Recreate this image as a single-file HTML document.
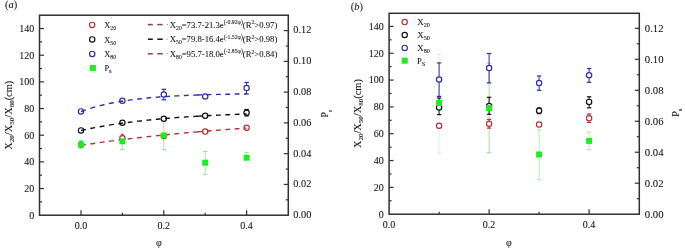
<!DOCTYPE html>
<html><head><meta charset="utf-8"><style>
html,body{margin:0;padding:0;background:#fff;width:685px;height:252px;overflow:hidden}
svg{display:block;font-family:"Liberation Serif", serif;fill:#111;filter:blur(0.25px)}
text{fill:#151515;stroke:#151515;stroke-width:0.08px}
</style></head><body>
<svg width="685" height="252" viewBox="0 0 685 252">
<text x="5.00" y="8.40" font-size="10.5" text-anchor="start" >(<tspan font-style="italic">a</tspan>)</text>
<rect x="39.5" y="15.2" width="248.8" height="200.0" fill="none" stroke="#303030" stroke-width="1.5"/>
<line x1="39.50" y1="201.87" x2="42.00" y2="201.87" stroke="#303030" stroke-width="1.2" />
<line x1="39.50" y1="188.53" x2="44.00" y2="188.53" stroke="#303030" stroke-width="1.2" />
<line x1="39.50" y1="175.20" x2="42.00" y2="175.20" stroke="#303030" stroke-width="1.2" />
<line x1="39.50" y1="161.87" x2="44.00" y2="161.87" stroke="#303030" stroke-width="1.2" />
<line x1="39.50" y1="148.53" x2="42.00" y2="148.53" stroke="#303030" stroke-width="1.2" />
<line x1="39.50" y1="135.20" x2="44.00" y2="135.20" stroke="#303030" stroke-width="1.2" />
<line x1="39.50" y1="121.87" x2="42.00" y2="121.87" stroke="#303030" stroke-width="1.2" />
<line x1="39.50" y1="108.53" x2="44.00" y2="108.53" stroke="#303030" stroke-width="1.2" />
<line x1="39.50" y1="95.20" x2="42.00" y2="95.20" stroke="#303030" stroke-width="1.2" />
<line x1="39.50" y1="81.87" x2="44.00" y2="81.87" stroke="#303030" stroke-width="1.2" />
<line x1="39.50" y1="68.53" x2="42.00" y2="68.53" stroke="#303030" stroke-width="1.2" />
<line x1="39.50" y1="55.20" x2="44.00" y2="55.20" stroke="#303030" stroke-width="1.2" />
<line x1="39.50" y1="41.87" x2="42.00" y2="41.87" stroke="#303030" stroke-width="1.2" />
<line x1="39.50" y1="28.53" x2="44.00" y2="28.53" stroke="#303030" stroke-width="1.2" />
<text x="34.20" y="218.60" font-size="10" text-anchor="end" >0</text>
<text x="34.20" y="191.93" font-size="10" text-anchor="end" >20</text>
<text x="34.20" y="165.27" font-size="10" text-anchor="end" >40</text>
<text x="34.20" y="138.60" font-size="10" text-anchor="end" >60</text>
<text x="34.20" y="111.93" font-size="10" text-anchor="end" >80</text>
<text x="34.20" y="85.27" font-size="10" text-anchor="end" >100</text>
<text x="34.20" y="58.60" font-size="10" text-anchor="end" >120</text>
<text x="34.20" y="31.93" font-size="10" text-anchor="end" >140</text>
<line x1="285.80" y1="199.82" x2="288.30" y2="199.82" stroke="#303030" stroke-width="1.2" />
<line x1="283.80" y1="184.43" x2="288.30" y2="184.43" stroke="#303030" stroke-width="1.2" />
<line x1="285.80" y1="169.05" x2="288.30" y2="169.05" stroke="#303030" stroke-width="1.2" />
<line x1="283.80" y1="153.66" x2="288.30" y2="153.66" stroke="#303030" stroke-width="1.2" />
<line x1="285.80" y1="138.28" x2="288.30" y2="138.28" stroke="#303030" stroke-width="1.2" />
<line x1="283.80" y1="122.89" x2="288.30" y2="122.89" stroke="#303030" stroke-width="1.2" />
<line x1="285.80" y1="107.51" x2="288.30" y2="107.51" stroke="#303030" stroke-width="1.2" />
<line x1="283.80" y1="92.12" x2="288.30" y2="92.12" stroke="#303030" stroke-width="1.2" />
<line x1="285.80" y1="76.74" x2="288.30" y2="76.74" stroke="#303030" stroke-width="1.2" />
<line x1="283.80" y1="61.35" x2="288.30" y2="61.35" stroke="#303030" stroke-width="1.2" />
<line x1="285.80" y1="45.97" x2="288.30" y2="45.97" stroke="#303030" stroke-width="1.2" />
<line x1="283.80" y1="30.58" x2="288.30" y2="30.58" stroke="#303030" stroke-width="1.2" />
<text x="293.30" y="218.10" font-size="10.3" text-anchor="start" >0.00</text>
<text x="293.30" y="187.33" font-size="10.3" text-anchor="start" >0.02</text>
<text x="293.30" y="156.56" font-size="10.3" text-anchor="start" >0.04</text>
<text x="293.30" y="125.79" font-size="10.3" text-anchor="start" >0.06</text>
<text x="293.30" y="95.02" font-size="10.3" text-anchor="start" >0.08</text>
<text x="293.30" y="64.25" font-size="10.3" text-anchor="start" >0.10</text>
<text x="293.30" y="33.48" font-size="10.3" text-anchor="start" >0.12</text>
<line x1="81.00" y1="210.20" x2="81.00" y2="215.20" stroke="#303030" stroke-width="1.2" />
<line x1="163.80" y1="210.20" x2="163.80" y2="215.20" stroke="#303030" stroke-width="1.2" />
<line x1="246.60" y1="210.20" x2="246.60" y2="215.20" stroke="#303030" stroke-width="1.2" />
<line x1="122.40" y1="212.70" x2="122.40" y2="215.20" stroke="#303030" stroke-width="1.2" />
<line x1="205.20" y1="212.70" x2="205.20" y2="215.20" stroke="#303030" stroke-width="1.2" />
<text x="81.00" y="229.20" font-size="10" text-anchor="middle" >0.0</text>
<text x="163.80" y="229.20" font-size="10" text-anchor="middle" >0.2</text>
<text x="246.60" y="229.20" font-size="10" text-anchor="middle" >0.4</text>
<text x="159.00" y="246.20" font-size="10" text-anchor="middle" >φ</text>
<line x1="81.00" y1="140.50" x2="81.00" y2="148.20" stroke="#96e096" stroke-width="0.8" />
<line x1="78.80" y1="140.50" x2="83.20" y2="140.50" stroke="#96e096" stroke-width="1.0" />
<line x1="78.80" y1="148.20" x2="83.20" y2="148.20" stroke="#96e096" stroke-width="1.0" />
<line x1="122.40" y1="135.50" x2="122.40" y2="149.50" stroke="#96e096" stroke-width="0.8" />
<line x1="120.20" y1="135.50" x2="124.60" y2="135.50" stroke="#96e096" stroke-width="1.0" />
<line x1="120.20" y1="149.50" x2="124.60" y2="149.50" stroke="#96e096" stroke-width="1.0" />
<line x1="163.80" y1="121.00" x2="163.80" y2="149.70" stroke="#96e096" stroke-width="0.8" />
<line x1="161.60" y1="121.00" x2="166.00" y2="121.00" stroke="#96e096" stroke-width="1.0" />
<line x1="161.60" y1="149.70" x2="166.00" y2="149.70" stroke="#96e096" stroke-width="1.0" />
<line x1="205.20" y1="151.40" x2="205.20" y2="174.30" stroke="#96e096" stroke-width="0.8" />
<line x1="203.00" y1="151.40" x2="207.40" y2="151.40" stroke="#96e096" stroke-width="1.0" />
<line x1="203.00" y1="174.30" x2="207.40" y2="174.30" stroke="#96e096" stroke-width="1.0" />
<line x1="246.60" y1="152.40" x2="246.60" y2="158.00" stroke="#96e096" stroke-width="0.8" />
<line x1="244.40" y1="152.40" x2="248.80" y2="152.40" stroke="#96e096" stroke-width="1.0" />
<line x1="244.40" y1="158.00" x2="248.80" y2="158.00" stroke="#96e096" stroke-width="1.0" />
<line x1="122.40" y1="134.30" x2="122.40" y2="142.30" stroke="#b8323a" stroke-width="1.0" />
<line x1="121.10" y1="134.30" x2="123.70" y2="134.30" stroke="#b8323a" stroke-width="1.2" />
<line x1="121.10" y1="142.30" x2="123.70" y2="142.30" stroke="#b8323a" stroke-width="1.2" />
<circle cx="81.00" cy="144.60" r="2.65" fill="white" stroke="#b8323a" stroke-width="1.2"/>
<circle cx="122.40" cy="138.30" r="2.65" fill="white" stroke="#b8323a" stroke-width="1.2"/>
<circle cx="163.80" cy="136.00" r="2.65" fill="white" stroke="#b8323a" stroke-width="1.2"/>
<circle cx="205.20" cy="131.60" r="2.65" fill="white" stroke="#b8323a" stroke-width="1.2"/>
<circle cx="246.60" cy="127.70" r="2.65" fill="white" stroke="#b8323a" stroke-width="1.2"/>
<line x1="246.60" y1="109.50" x2="246.60" y2="116.00" stroke="#111111" stroke-width="1.0" />
<line x1="244.40" y1="109.50" x2="248.80" y2="109.50" stroke="#111111" stroke-width="1.2" />
<line x1="244.40" y1="116.00" x2="248.80" y2="116.00" stroke="#111111" stroke-width="1.2" />
<circle cx="81.00" cy="130.40" r="2.65" fill="white" stroke="#111111" stroke-width="1.2"/>
<circle cx="122.40" cy="122.80" r="2.65" fill="white" stroke="#111111" stroke-width="1.2"/>
<circle cx="163.80" cy="118.80" r="2.65" fill="white" stroke="#111111" stroke-width="1.2"/>
<circle cx="205.20" cy="115.70" r="2.65" fill="white" stroke="#111111" stroke-width="1.2"/>
<circle cx="246.60" cy="112.70" r="2.65" fill="white" stroke="#111111" stroke-width="1.2"/>
<line x1="163.80" y1="89.30" x2="163.80" y2="99.80" stroke="#2c2ca6" stroke-width="1.0" />
<line x1="161.60" y1="89.30" x2="166.00" y2="89.30" stroke="#2c2ca6" stroke-width="1.2" />
<line x1="161.60" y1="99.80" x2="166.00" y2="99.80" stroke="#2c2ca6" stroke-width="1.2" />
<line x1="246.60" y1="82.50" x2="246.60" y2="94.00" stroke="#2c2ca6" stroke-width="1.0" />
<line x1="244.40" y1="82.50" x2="248.80" y2="82.50" stroke="#2c2ca6" stroke-width="1.2" />
<line x1="244.40" y1="94.00" x2="248.80" y2="94.00" stroke="#2c2ca6" stroke-width="1.2" />
<circle cx="81.00" cy="111.40" r="2.65" fill="white" stroke="#2c2ca6" stroke-width="1.2"/>
<circle cx="122.40" cy="100.80" r="2.65" fill="white" stroke="#2c2ca6" stroke-width="1.2"/>
<circle cx="163.80" cy="94.50" r="2.65" fill="white" stroke="#2c2ca6" stroke-width="1.2"/>
<circle cx="205.20" cy="96.50" r="2.65" fill="white" stroke="#2c2ca6" stroke-width="1.2"/>
<circle cx="246.60" cy="88.10" r="2.65" fill="white" stroke="#2c2ca6" stroke-width="1.2"/>
<path d="M81.00,145.30 L82.60,145.06 L84.20,144.82 L85.80,144.59 M90.35,143.92 L91.95,143.69 L93.55,143.46 L95.15,143.24 M99.70,142.60 L101.30,142.38 L102.90,142.17 L104.50,141.95 M109.05,141.34 L110.65,141.13 L112.25,140.93 L113.85,140.72 M118.40,140.14 L120.00,139.94 L121.60,139.74 L123.20,139.54 M127.75,138.99 L129.35,138.80 L130.95,138.61 L132.55,138.42 M137.10,137.89 L138.70,137.70 L140.30,137.52 L141.90,137.34 M146.45,136.83 L148.05,136.66 L149.65,136.49 L151.25,136.31 M155.80,135.83 L157.40,135.66 L159.00,135.49 L160.60,135.33 M165.15,134.87 L166.75,134.71 L168.35,134.55 L169.95,134.39 M174.50,133.95 L176.10,133.80 L177.70,133.64 L179.30,133.49 M183.85,133.07 L185.45,132.92 L187.05,132.78 L188.65,132.63 M193.20,132.23 L194.67,132.10 L196.13,131.97 L197.60,131.85 M197.30,131.87 L198.90,131.74 L200.50,131.60 L202.10,131.46 M206.65,131.09 L208.25,130.96 L209.85,130.82 L211.45,130.70 M216.00,130.33 L217.60,130.21 L219.20,130.08 L220.80,129.96 M225.35,129.61 L226.95,129.49 L228.55,129.38 L230.15,129.26 M234.70,128.93 L236.30,128.81 L237.90,128.70 L239.50,128.59 M244.05,128.27 L244.90,128.21 L245.75,128.15 L246.60,128.10" fill="none" stroke="#b8323a" stroke-width="1.4"/>
<path d="M81.00,130.49 L82.60,130.14 L84.20,129.80 L85.80,129.46 M90.35,128.53 L91.95,128.22 L93.55,127.91 L95.15,127.60 M99.70,126.77 L101.30,126.49 L102.90,126.21 L104.50,125.93 M109.05,125.18 L110.65,124.93 L112.25,124.68 L113.85,124.43 M118.40,123.76 L120.00,123.53 L121.60,123.30 L123.20,123.08 M127.75,122.48 L129.35,122.27 L130.95,122.07 L132.55,121.87 M137.10,121.32 L138.70,121.14 L140.30,120.96 L141.90,120.78 M146.45,120.29 L148.05,120.12 L149.65,119.96 L151.25,119.80 M155.80,119.36 L157.40,119.21 L159.00,119.06 L160.60,118.92 M165.15,118.52 L166.75,118.39 L168.35,118.25 L169.95,118.12 M174.50,117.77 L176.10,117.65 L177.70,117.53 L179.30,117.41 M183.85,117.09 L185.45,116.98 L187.05,116.88 L188.65,116.77 M193.20,116.48 L194.67,116.39 L196.13,116.30 L197.60,116.22 M197.30,116.24 L198.90,116.14 L200.50,116.05 L202.10,115.96 M206.65,115.71 L208.25,115.63 L209.85,115.55 L211.45,115.47 M216.00,115.24 L217.60,115.17 L219.20,115.09 L220.80,115.02 M225.35,114.82 L226.95,114.75 L228.55,114.69 L230.15,114.62 M234.70,114.44 L236.30,114.38 L237.90,114.32 L239.50,114.26 M244.05,114.10 L244.90,114.07 L245.75,114.04 L246.60,114.02" fill="none" stroke="#111111" stroke-width="1.4"/>
<path d="M81.00,111.56 L82.60,110.98 L84.20,110.41 L85.80,109.86 M90.35,108.40 L91.95,107.92 L93.55,107.45 L95.15,106.99 M99.70,105.78 L101.30,105.38 L102.90,105.00 L104.50,104.62 M109.05,103.62 L110.65,103.29 L112.25,102.97 L113.85,102.66 M118.40,101.83 L120.00,101.56 L121.60,101.29 L123.20,101.03 M127.75,100.35 L129.35,100.12 L130.95,99.90 L132.55,99.69 M137.10,99.12 L138.70,98.94 L140.30,98.76 L141.90,98.58 M146.45,98.11 L148.05,97.96 L149.65,97.81 L151.25,97.66 M155.80,97.27 L157.40,97.14 L159.00,97.02 L160.60,96.90 M165.15,96.58 L166.75,96.47 L168.35,96.37 L169.95,96.27 M174.50,96.01 L176.10,95.92 L177.70,95.83 L179.30,95.75 M183.85,95.53 L185.45,95.46 L187.05,95.39 L188.65,95.32 M193.20,95.14 L194.67,95.08 L196.13,95.03 L197.60,94.98 M197.30,94.99 L198.90,94.93 L200.50,94.88 L202.10,94.83 M206.65,94.69 L208.25,94.64 L209.85,94.60 L211.45,94.56 M216.00,94.44 L217.60,94.41 L219.20,94.37 L220.80,94.33 M225.35,94.24 L226.95,94.21 L228.55,94.18 L230.15,94.15 M234.70,94.07 L236.30,94.04 L237.90,94.02 L239.50,93.99 M244.05,93.93 L244.90,93.92 L245.75,93.91 L246.60,93.90" fill="none" stroke="#2c2ca6" stroke-width="1.4"/>
<rect x="78.00" y="141.70" width="6" height="6" fill="#1eec1e"/>
<rect x="119.40" y="138.30" width="6" height="6" fill="#1eec1e"/>
<rect x="160.80" y="132.50" width="6" height="6" fill="#1eec1e"/>
<rect x="202.20" y="159.70" width="6" height="6" fill="#1eec1e"/>
<rect x="243.60" y="154.70" width="6" height="6" fill="#1eec1e"/>
<circle cx="92.20" cy="24.90" r="2.65" fill="white" stroke="#b8323a" stroke-width="1.2"/>
<text x="104.20" y="28.10" font-size="8.4" text-anchor="start" >X<tspan font-size="6" dy="2">20</tspan></text>
<circle cx="92.20" cy="39.40" r="2.65" fill="white" stroke="#111111" stroke-width="1.2"/>
<text x="104.20" y="42.60" font-size="8.4" text-anchor="start" >X<tspan font-size="6" dy="2">50</tspan></text>
<circle cx="92.20" cy="53.90" r="2.65" fill="white" stroke="#2c2ca6" stroke-width="1.2"/>
<text x="104.20" y="57.10" font-size="8.4" text-anchor="start" >X<tspan font-size="6" dy="2">80</tspan></text>
<rect x="89.90" y="64.90" width="6" height="6" fill="#1eec1e"/>
<text x="104.40" y="71.20" font-size="8.4" text-anchor="start" >P<tspan font-size="6.6" dy="2.2">s</tspan></text>
<line x1="147.90" y1="24.60" x2="152.80" y2="24.60" stroke="#a03a42" stroke-width="1.5" />
<line x1="157.30" y1="24.60" x2="162.70" y2="24.60" stroke="#a03a42" stroke-width="1.5" />
<circle cx="167.2" cy="24.40" r="0.5" fill="#555"/>
<text x="169.80" y="27.70" font-size="8.4" text-anchor="start" textLength="107.5" lengthAdjust="spacingAndGlyphs">X<tspan font-size="5.5" dy="2">20</tspan><tspan dy="-2">=73.7-21.3e</tspan><tspan font-size="5.6" dy="-3.6">(-0.92φ)</tspan><tspan dy="3.6">(R</tspan><tspan font-size="5.5" dy="-3.3">2</tspan><tspan dy="3.3">&gt;0.97)</tspan></text>
<line x1="147.90" y1="39.20" x2="152.80" y2="39.20" stroke="#111111" stroke-width="1.5" />
<line x1="157.30" y1="39.20" x2="162.70" y2="39.20" stroke="#111111" stroke-width="1.5" />
<circle cx="167.2" cy="39.00" r="0.5" fill="#555"/>
<text x="169.80" y="42.30" font-size="8.4" text-anchor="start" textLength="107.5" lengthAdjust="spacingAndGlyphs">X<tspan font-size="5.5" dy="2">50</tspan><tspan dy="-2">=79.8-16.4e</tspan><tspan font-size="5.6" dy="-3.6">(-1.52φ)</tspan><tspan dy="3.6">(R</tspan><tspan font-size="5.5" dy="-3.3">2</tspan><tspan dy="3.3">&gt;0.98)</tspan></text>
<line x1="147.90" y1="53.80" x2="152.80" y2="53.80" stroke="#a03a42" stroke-width="1.5" />
<line x1="157.30" y1="53.80" x2="162.70" y2="53.80" stroke="#a03a42" stroke-width="1.5" />
<circle cx="167.2" cy="53.60" r="0.5" fill="#555"/>
<text x="169.80" y="56.90" font-size="8.4" text-anchor="start" textLength="107.5" lengthAdjust="spacingAndGlyphs">X<tspan font-size="5.5" dy="2">80</tspan><tspan dy="-2">=95.7-18.0e</tspan><tspan font-size="5.6" dy="-3.6">(-2.85φ)</tspan><tspan dy="3.6">(R</tspan><tspan font-size="5.5" dy="-3.3">2</tspan><tspan dy="3.3">&gt;0.84)</tspan></text>
<text transform="translate(12.2,115.2) rotate(-90)" font-size="10.4" text-anchor="middle">X<tspan font-size="7" dy="1.8">20</tspan><tspan dy="-1.8">/X</tspan><tspan font-size="7" dy="1.8">50</tspan><tspan dy="-1.8">/X</tspan><tspan font-size="7" dy="1.8">80</tspan><tspan dy="-1.8">(cm)</tspan></text>
<text transform="translate(328.1,117.6) rotate(-90)" font-size="9.5">P<tspan font-size="6" dy="3.4">s</tspan></text>
<text x="350.70" y="10.30" font-size="10.5" text-anchor="start" >(<tspan font-style="italic">b</tspan>)</text>
<rect x="389.1" y="13.3" width="250.19999999999993" height="200.89999999999998" fill="none" stroke="#303030" stroke-width="1.5"/>
<line x1="389.10" y1="200.79" x2="391.60" y2="200.79" stroke="#303030" stroke-width="1.2" />
<line x1="389.10" y1="187.37" x2="393.60" y2="187.37" stroke="#303030" stroke-width="1.2" />
<line x1="389.10" y1="173.96" x2="391.60" y2="173.96" stroke="#303030" stroke-width="1.2" />
<line x1="389.10" y1="160.54" x2="393.60" y2="160.54" stroke="#303030" stroke-width="1.2" />
<line x1="389.10" y1="147.13" x2="391.60" y2="147.13" stroke="#303030" stroke-width="1.2" />
<line x1="389.10" y1="133.71" x2="393.60" y2="133.71" stroke="#303030" stroke-width="1.2" />
<line x1="389.10" y1="120.30" x2="391.60" y2="120.30" stroke="#303030" stroke-width="1.2" />
<line x1="389.10" y1="106.89" x2="393.60" y2="106.89" stroke="#303030" stroke-width="1.2" />
<line x1="389.10" y1="93.47" x2="391.60" y2="93.47" stroke="#303030" stroke-width="1.2" />
<line x1="389.10" y1="80.06" x2="393.60" y2="80.06" stroke="#303030" stroke-width="1.2" />
<line x1="389.10" y1="66.64" x2="391.60" y2="66.64" stroke="#303030" stroke-width="1.2" />
<line x1="389.10" y1="53.23" x2="393.60" y2="53.23" stroke="#303030" stroke-width="1.2" />
<line x1="389.10" y1="39.81" x2="391.60" y2="39.81" stroke="#303030" stroke-width="1.2" />
<line x1="389.10" y1="26.40" x2="393.60" y2="26.40" stroke="#303030" stroke-width="1.2" />
<text x="383.80" y="217.60" font-size="10" text-anchor="end" >0</text>
<text x="383.80" y="190.77" font-size="10" text-anchor="end" >20</text>
<text x="383.80" y="163.94" font-size="10" text-anchor="end" >40</text>
<text x="383.80" y="137.11" font-size="10" text-anchor="end" >60</text>
<text x="383.80" y="110.29" font-size="10" text-anchor="end" >80</text>
<text x="383.80" y="83.46" font-size="10" text-anchor="end" >100</text>
<text x="383.80" y="56.63" font-size="10" text-anchor="end" >120</text>
<text x="383.80" y="29.80" font-size="10" text-anchor="end" >140</text>
<line x1="636.80" y1="198.71" x2="639.30" y2="198.71" stroke="#303030" stroke-width="1.2" />
<line x1="634.80" y1="183.22" x2="639.30" y2="183.22" stroke="#303030" stroke-width="1.2" />
<line x1="636.80" y1="167.72" x2="639.30" y2="167.72" stroke="#303030" stroke-width="1.2" />
<line x1="634.80" y1="152.23" x2="639.30" y2="152.23" stroke="#303030" stroke-width="1.2" />
<line x1="636.80" y1="136.74" x2="639.30" y2="136.74" stroke="#303030" stroke-width="1.2" />
<line x1="634.80" y1="121.25" x2="639.30" y2="121.25" stroke="#303030" stroke-width="1.2" />
<line x1="636.80" y1="105.76" x2="639.30" y2="105.76" stroke="#303030" stroke-width="1.2" />
<line x1="634.80" y1="90.27" x2="639.30" y2="90.27" stroke="#303030" stroke-width="1.2" />
<line x1="636.80" y1="74.78" x2="639.30" y2="74.78" stroke="#303030" stroke-width="1.2" />
<line x1="634.80" y1="59.28" x2="639.30" y2="59.28" stroke="#303030" stroke-width="1.2" />
<line x1="636.80" y1="43.79" x2="639.30" y2="43.79" stroke="#303030" stroke-width="1.2" />
<line x1="634.80" y1="28.30" x2="639.30" y2="28.30" stroke="#303030" stroke-width="1.2" />
<text x="644.80" y="217.50" font-size="10.7" text-anchor="start" >0.00</text>
<text x="644.80" y="186.52" font-size="10.7" text-anchor="start" >0.02</text>
<text x="644.80" y="155.53" font-size="10.7" text-anchor="start" >0.04</text>
<text x="644.80" y="124.55" font-size="10.7" text-anchor="start" >0.06</text>
<text x="644.80" y="93.57" font-size="10.7" text-anchor="start" >0.08</text>
<text x="644.80" y="62.58" font-size="10.7" text-anchor="start" >0.10</text>
<text x="644.80" y="31.60" font-size="10.7" text-anchor="start" >0.12</text>
<line x1="489.10" y1="209.20" x2="489.10" y2="214.20" stroke="#303030" stroke-width="1.2" />
<line x1="589.10" y1="209.20" x2="589.10" y2="214.20" stroke="#303030" stroke-width="1.2" />
<line x1="439.10" y1="211.70" x2="439.10" y2="214.20" stroke="#303030" stroke-width="1.2" />
<line x1="539.10" y1="211.70" x2="539.10" y2="214.20" stroke="#303030" stroke-width="1.2" />
<text x="389.10" y="228.20" font-size="10" text-anchor="middle" >0.0</text>
<text x="489.10" y="228.20" font-size="10" text-anchor="middle" >0.2</text>
<text x="589.10" y="228.20" font-size="10" text-anchor="middle" >0.4</text>
<text x="509.00" y="246.20" font-size="10" text-anchor="middle" >φ</text>
<line x1="439.10" y1="54.50" x2="439.10" y2="153.00" stroke="#d2eed2" stroke-width="0.75" />
<line x1="436.90" y1="54.50" x2="441.30" y2="54.50" stroke="#d2eed2" stroke-width="0.95" />
<line x1="436.90" y1="153.00" x2="441.30" y2="153.00" stroke="#d2eed2" stroke-width="0.95" />
<line x1="489.10" y1="63.20" x2="489.10" y2="152.80" stroke="#8cd88c" stroke-width="0.75" />
<line x1="486.90" y1="63.20" x2="491.30" y2="63.20" stroke="#8cd88c" stroke-width="0.95" />
<line x1="486.90" y1="152.80" x2="491.30" y2="152.80" stroke="#8cd88c" stroke-width="0.95" />
<line x1="539.10" y1="129.80" x2="539.10" y2="179.70" stroke="#a6e4a6" stroke-width="0.75" />
<line x1="536.90" y1="129.80" x2="541.30" y2="129.80" stroke="#a6e4a6" stroke-width="0.95" />
<line x1="536.90" y1="179.70" x2="541.30" y2="179.70" stroke="#a6e4a6" stroke-width="0.95" />
<line x1="589.10" y1="132.10" x2="589.10" y2="149.60" stroke="#a6e4a6" stroke-width="0.75" />
<line x1="586.90" y1="132.10" x2="591.30" y2="132.10" stroke="#a6e4a6" stroke-width="0.95" />
<line x1="586.90" y1="149.60" x2="591.30" y2="149.60" stroke="#a6e4a6" stroke-width="0.95" />
<line x1="439.10" y1="123.70" x2="439.10" y2="127.70" stroke="#b8323a" stroke-width="1.0" />
<line x1="436.90" y1="123.70" x2="441.30" y2="123.70" stroke="#b8323a" stroke-width="1.2" />
<line x1="436.90" y1="127.70" x2="441.30" y2="127.70" stroke="#b8323a" stroke-width="1.2" />
<circle cx="439.10" cy="125.70" r="2.65" fill="white" stroke="#b8323a" stroke-width="1.2"/>
<line x1="489.10" y1="119.40" x2="489.10" y2="128.10" stroke="#b8323a" stroke-width="1.0" />
<line x1="486.90" y1="119.40" x2="491.30" y2="119.40" stroke="#b8323a" stroke-width="1.2" />
<line x1="486.90" y1="128.10" x2="491.30" y2="128.10" stroke="#b8323a" stroke-width="1.2" />
<circle cx="489.10" cy="123.70" r="2.65" fill="white" stroke="#b8323a" stroke-width="1.2"/>
<line x1="539.10" y1="122.60" x2="539.10" y2="126.60" stroke="#b8323a" stroke-width="1.0" />
<line x1="536.90" y1="122.60" x2="541.30" y2="122.60" stroke="#b8323a" stroke-width="1.2" />
<line x1="536.90" y1="126.60" x2="541.30" y2="126.60" stroke="#b8323a" stroke-width="1.2" />
<circle cx="539.10" cy="124.60" r="2.65" fill="white" stroke="#b8323a" stroke-width="1.2"/>
<line x1="589.10" y1="114.00" x2="589.10" y2="122.50" stroke="#b8323a" stroke-width="1.0" />
<line x1="586.90" y1="114.00" x2="591.30" y2="114.00" stroke="#b8323a" stroke-width="1.2" />
<line x1="586.90" y1="122.50" x2="591.30" y2="122.50" stroke="#b8323a" stroke-width="1.2" />
<circle cx="589.10" cy="118.30" r="2.65" fill="white" stroke="#b8323a" stroke-width="1.2"/>
<line x1="439.10" y1="98.00" x2="439.10" y2="114.60" stroke="#111111" stroke-width="1.0" />
<line x1="436.90" y1="98.00" x2="441.30" y2="98.00" stroke="#111111" stroke-width="1.2" />
<line x1="436.90" y1="114.60" x2="441.30" y2="114.60" stroke="#111111" stroke-width="1.2" />
<circle cx="439.10" cy="107.50" r="2.65" fill="white" stroke="#111111" stroke-width="1.2"/>
<line x1="489.10" y1="97.30" x2="489.10" y2="114.30" stroke="#111111" stroke-width="1.0" />
<line x1="486.90" y1="97.30" x2="491.30" y2="97.30" stroke="#111111" stroke-width="1.2" />
<line x1="486.90" y1="114.30" x2="491.30" y2="114.30" stroke="#111111" stroke-width="1.2" />
<circle cx="489.10" cy="106.00" r="2.65" fill="white" stroke="#111111" stroke-width="1.2"/>
<line x1="539.10" y1="108.00" x2="539.10" y2="113.60" stroke="#111111" stroke-width="1.0" />
<line x1="536.90" y1="108.00" x2="541.30" y2="108.00" stroke="#111111" stroke-width="1.2" />
<line x1="536.90" y1="113.60" x2="541.30" y2="113.60" stroke="#111111" stroke-width="1.2" />
<circle cx="539.10" cy="110.80" r="2.65" fill="white" stroke="#111111" stroke-width="1.2"/>
<line x1="589.10" y1="96.80" x2="589.10" y2="107.80" stroke="#111111" stroke-width="1.0" />
<line x1="586.90" y1="96.80" x2="591.30" y2="96.80" stroke="#111111" stroke-width="1.2" />
<line x1="586.90" y1="107.80" x2="591.30" y2="107.80" stroke="#111111" stroke-width="1.2" />
<circle cx="589.10" cy="101.90" r="2.65" fill="white" stroke="#111111" stroke-width="1.2"/>
<line x1="439.10" y1="62.90" x2="439.10" y2="96.40" stroke="#2c2ca6" stroke-width="1.0" />
<line x1="436.90" y1="62.90" x2="441.30" y2="62.90" stroke="#2c2ca6" stroke-width="1.2" />
<line x1="436.90" y1="96.40" x2="441.30" y2="96.40" stroke="#2c2ca6" stroke-width="1.2" />
<circle cx="439.10" cy="79.50" r="2.65" fill="white" stroke="#2c2ca6" stroke-width="1.2"/>
<line x1="489.10" y1="53.50" x2="489.10" y2="82.90" stroke="#2c2ca6" stroke-width="1.0" />
<line x1="486.90" y1="53.50" x2="491.30" y2="53.50" stroke="#2c2ca6" stroke-width="1.2" />
<line x1="486.90" y1="82.90" x2="491.30" y2="82.90" stroke="#2c2ca6" stroke-width="1.2" />
<circle cx="489.10" cy="68.10" r="2.65" fill="white" stroke="#2c2ca6" stroke-width="1.2"/>
<line x1="539.10" y1="76.00" x2="539.10" y2="90.30" stroke="#2c2ca6" stroke-width="1.0" />
<line x1="536.90" y1="76.00" x2="541.30" y2="76.00" stroke="#2c2ca6" stroke-width="1.2" />
<line x1="536.90" y1="90.30" x2="541.30" y2="90.30" stroke="#2c2ca6" stroke-width="1.2" />
<circle cx="539.10" cy="83.00" r="2.65" fill="white" stroke="#2c2ca6" stroke-width="1.2"/>
<line x1="589.10" y1="68.50" x2="589.10" y2="82.30" stroke="#2c2ca6" stroke-width="1.0" />
<line x1="586.90" y1="68.50" x2="591.30" y2="68.50" stroke="#2c2ca6" stroke-width="1.2" />
<line x1="586.90" y1="82.30" x2="591.30" y2="82.30" stroke="#2c2ca6" stroke-width="1.2" />
<circle cx="589.10" cy="75.30" r="2.65" fill="white" stroke="#2c2ca6" stroke-width="1.2"/>
<rect x="436.10" y="100.00" width="6" height="6" fill="#1eec1e"/>
<rect x="486.10" y="105.00" width="6" height="6" fill="#1eec1e"/>
<rect x="536.10" y="151.50" width="6" height="6" fill="#1eec1e"/>
<rect x="586.10" y="137.90" width="6" height="6" fill="#1eec1e"/>
<circle cx="404.70" cy="22.10" r="2.65" fill="white" stroke="#b8323a" stroke-width="1.2"/>
<text x="417.20" y="25.40" font-size="9" text-anchor="start" >X<tspan font-size="6.3" dy="2">20</tspan></text>
<circle cx="404.70" cy="35.00" r="2.65" fill="white" stroke="#111111" stroke-width="1.2"/>
<text x="417.20" y="38.30" font-size="9" text-anchor="start" >X<tspan font-size="6.3" dy="2">50</tspan></text>
<circle cx="404.70" cy="47.90" r="2.65" fill="white" stroke="#2c2ca6" stroke-width="1.2"/>
<text x="417.20" y="51.20" font-size="9" text-anchor="start" >X<tspan font-size="6.3" dy="2">80</tspan></text>
<rect x="401.70" y="57.70" width="6" height="6" fill="#1eec1e"/>
<text x="417.00" y="63.60" font-size="8.6" text-anchor="start" >P<tspan font-size="6.3" dy="2.4">S</tspan></text>
<text transform="translate(361.3,113.6) rotate(-90)" font-size="10.4" text-anchor="middle">X<tspan font-size="7" dy="1.8">20</tspan><tspan dy="-1.8">/X</tspan><tspan font-size="7" dy="1.8">50</tspan><tspan dy="-1.8">/X</tspan><tspan font-size="7" dy="1.8">80</tspan><tspan dy="-1.8">(cm)</tspan></text>
<text transform="translate(679.1,116.8) rotate(-90)" font-size="10">P<tspan font-size="6.8" dy="2.6">s</tspan></text>
</svg></body></html>
